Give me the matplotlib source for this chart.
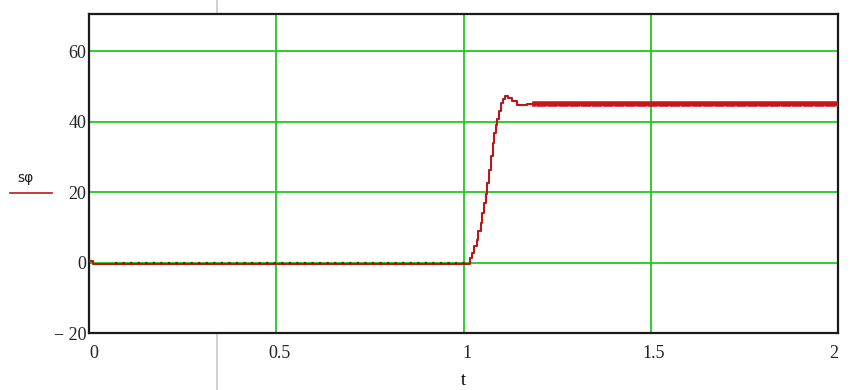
import matplotlib.pyplot as plt
import matplotlib.transforms as mtransforms
from matplotlib.lines import Line2D

# step response s_phi(t), sampled staircase (held values)
t = [0.0, 0.012, 1.017, 1.022, 1.028, 1.035, 1.040, 1.046, 1.050, 1.055,
     1.060, 1.064, 1.069, 1.073, 1.078, 1.082, 1.087, 1.090, 1.096, 1.099,
     1.105, 1.111, 1.120, 1.129, 1.142, 1.169, 1.191, 2.0]
s_phi = [0.3, -0.5, 1.3, 2.7, 4.6, 6.5, 8.9, 11.2, 14.1, 16.9,
         19.3, 22.6, 26.3, 30.1, 33.9, 36.7, 39.1, 40.7, 42.9, 45.2,
         46.4, 47.1, 46.6, 45.7, 44.8, 45.0, 45.0, 45.0]

xticks = [0, 0.5, 1, 1.5, 2]
xlabels = ['0', '0.5', '1', '1.5', '2']
yticks = [-20, 0, 20, 40, 60]
ylabels = ['\u2212 20', '0', '20', '40', '60']

red = '#b81818'
dark = '#7a1a0a'
green = '#22c822'

fig = plt.figure(figsize=(8.51, 3.90), dpi=100)
ax = fig.add_axes([89 / 851, 57 / 390, 749 / 851, 319 / 390])

ax.set_xlim(0, 2)
ax.set_ylim(-20, 70.5)
ax.set_xticks(xticks)
ax.set_xticklabels(xlabels, family='Liberation Serif', fontsize=13)
ax.set_yticks(yticks)
ax.set_yticklabels(ylabels, family='Liberation Serif', fontsize=13)
ax.tick_params(length=0, pad=2, colors='#222222')
ax.tick_params(axis='x', pad=9)
xl = ax.get_xticklabels()
xl[0].set_ha('left')
xl[-1].set_ha('right')
for lab in xl[1:-1]:
    lab.set_transform(lab.get_transform() + mtransforms.ScaledTranslation(3 / 100, 0, fig.dpi_scale_trans))

for v in [0, 20, 40, 60]:
    ax.axhline(v, color=green, lw=1.3, zorder=1)
for v in [0.5, 1, 1.5]:
    ax.axvline(v, color=green, lw=1.3, zorder=1)

for sp in ax.spines.values():
    sp.set_linewidth(1.6)
    sp.set_color('#1a1a1a')

# main trace
ax.plot(t, s_phi, drawstyle='steps-post', color=red, lw=1.5, zorder=3)

# quantisation ripple on the flat parts
up = ax.transData + mtransforms.ScaledTranslation(0, 1.5 / 100, fig.dpi_scale_trans)
ax.plot([0.07, t[2]], [s_phi[1], s_phi[1]], color=dark, lw=1.6,
        ls=(0, (1, 2.4)), transform=up, zorder=4)
ax.plot(t[26:], s_phi[26:], drawstyle='steps-post', color='#c8141e', lw=4.0, zorder=3)
down = ax.transData + mtransforms.ScaledTranslation(0, -1.8 / 100, fig.dpi_scale_trans)
ax.plot(t[26:], s_phi[26:], color='white', lw=0.8, ls=(0, (1, 9)),
        transform=down, zorder=4, alpha=0.7)

ax.set_xlabel('t', family='Liberation Serif', fontsize=13, labelpad=7)

# trace legend on the left
fig.text(25 / 851, 1 - 178 / 390, 's\u03c6', fontsize=10, ha='center', va='center',
         color='#222222')
fig.add_artist(Line2D([10 / 851, 52 / 851], [1 - 193 / 390, 1 - 193 / 390],
                      color=red, lw=1.2, transform=fig.transFigure))

# page boundary line
fig.add_artist(Line2D([217 / 851, 217 / 851], [0, 1], color='#c8c8c8', lw=1.2,
                      transform=fig.transFigure, zorder=0))

fig.savefig('out.png', dpi=100)
